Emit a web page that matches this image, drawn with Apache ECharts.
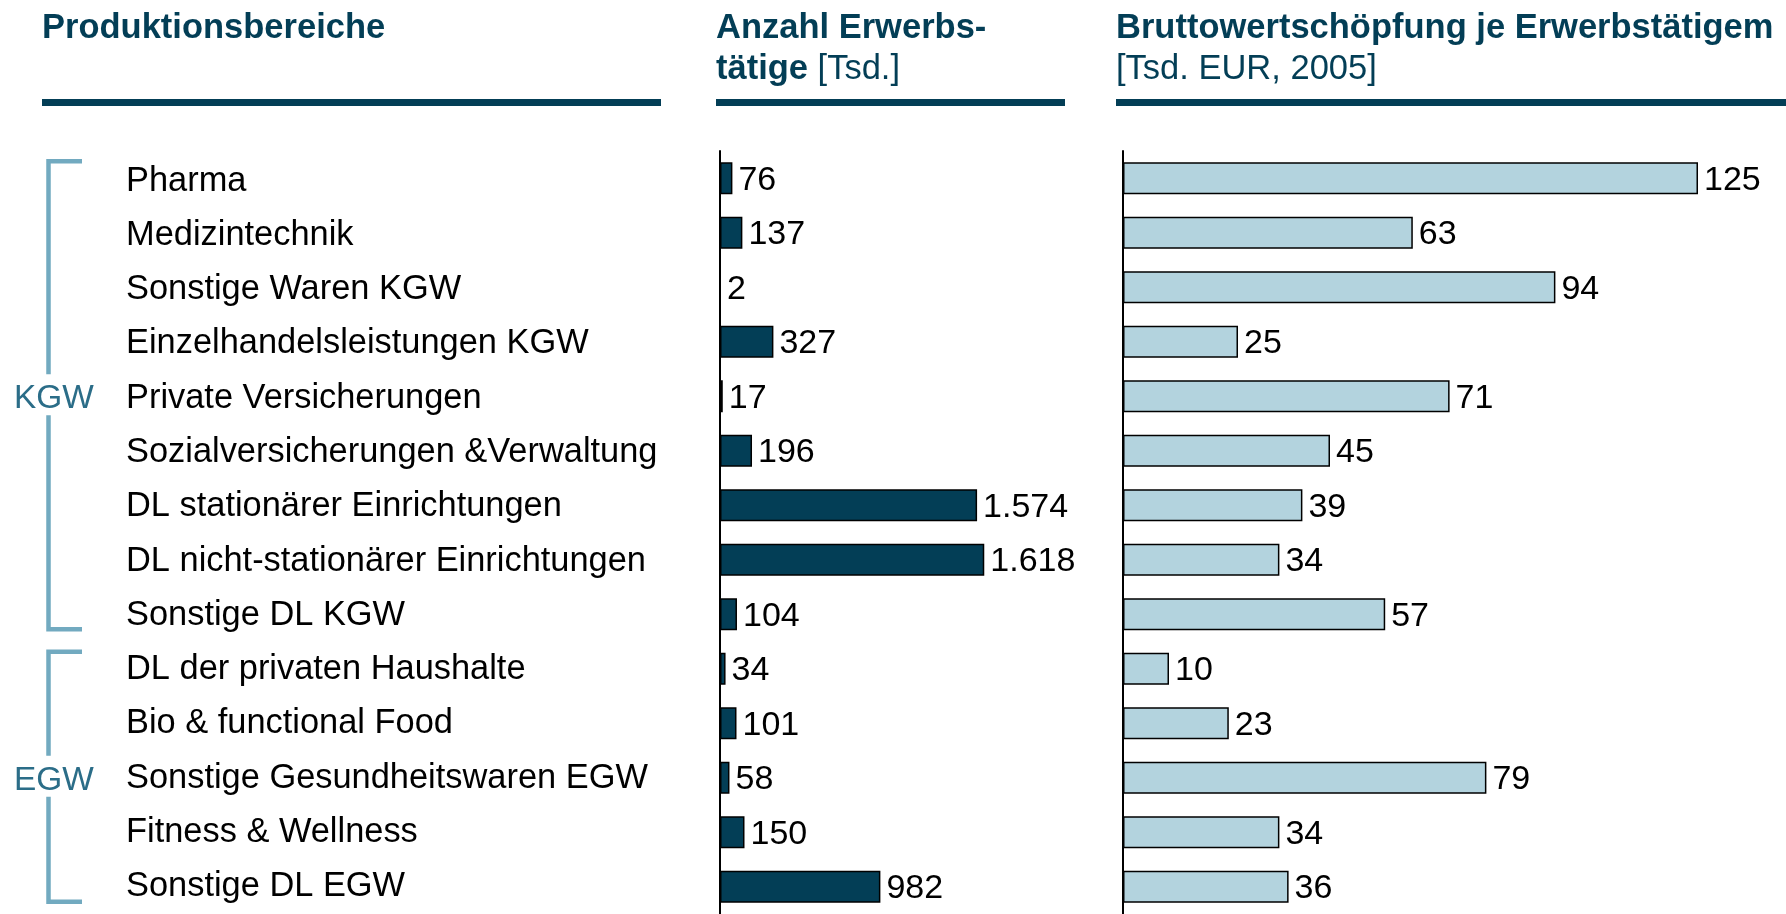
<!DOCTYPE html>
<html>
<head>
<meta charset="utf-8">
<script src="https://cdn.jsdelivr.net/npm/echarts@6/dist/echarts.min.js"></script>
<style>
  html, body { margin: 0; padding: 0; background: #fff; }
  #chart { width: 1786px; height: 914px; }
</style>
</head>
<body>
<div id="chart"></div>
<script>
// ── data ──
const categories = [
  'Pharma', 'Medizintechnik', 'Sonstige Waren KGW', 'Einzelhandelsleistungen KGW',
  'Private Versicherungen', 'Sozialversicherungen &Verwaltung', 'DL stationärer Einrichtungen',
  'DL nicht-stationärer Einrichtungen', 'Sonstige DL KGW', 'DL der privaten Haushalte',
  'Bio & functional Food', 'Sonstige Gesundheitswaren EGW', 'Fitness & Wellness', 'Sonstige DL EGW'
];
const employees = [76, 137, 2, 327, 17, 196, 1574, 1618, 104, 34, 101, 58, 150, 982];
const valueAdded = [125, 63, 94, 25, 71, 45, 39, 34, 57, 10, 23, 79, 34, 36];
const groups = [
  { name: 'KGW', from: 0, to: 8, labelAt: 4 },
  { name: 'EGW', from: 9, to: 13, labelAt: 11 },
];
const headLabels = ['Produktionsbereiche', 'Anzahl Erwerbs-', 'tätige', '[Tsd.]',
  'Bruttowertschöpfung je Erwerbstätigem', '[Tsd. EUR, 2005]'];

const FONT = 'Arial, "Liberation Sans", Helvetica, sans-serif';
const DARK = '#033e56';
const LIGHT = '#b3d3de';
const BRACKET = '#72aac0';
const GROUPTXT = '#2b6d88';

const fmtDe = v => String(v).replace(/\B(?=(\d{3})+(?!\d))/g, '.');

const chart = echarts.init(document.getElementById('chart'));

const rowTop = 151, rowsH = 768;
const bold = { fontFamily: FONT, fontSize: 34.5, fontWeight: 'bold', color: DARK, lineHeight: 41 };
const thin = { fontFamily: FONT, fontSize: 34.5, fontWeight: 'normal', color: DARK, lineHeight: 41 };

chart.setOption({
  backgroundColor: '#fff',
  animation: false,
  title: [
    { text: headLabels[0], left: 42, top: 8, padding: 0, textStyle: bold },
    { text: '{b|' + headLabels[1] + '}\n{b|' + headLabels[2] + '} {n|' + headLabels[3] + '}', left: 716, top: 8, padding: 0,
      textStyle: Object.assign({}, thin, { rich: { b: bold, n: thin } }) },
    { text: '{b|' + headLabels[4] + '}\n{n|' + headLabels[5] + '}', left: 1116, top: 8, padding: 0,
      textStyle: Object.assign({}, thin, { rich: { b: bold, n: thin } }) },
  ],
  grid: [
    { left: 720, top: rowTop, width: 294, height: rowsH },
    { left: 1123, top: rowTop, width: 644, height: rowsH },
    // label-only grid, a few px lower so the row names sit like the original
    { left: 720, top: rowTop + 3, width: 294, height: rowsH },
  ],
  xAxis: [
    { type: 'value', gridIndex: 0, min: 0, max: 1800, show: false },
    { type: 'value', gridIndex: 1, min: 0, max: 140, show: false },
    { type: 'value', gridIndex: 2, min: 0, max: 1800, show: false },
  ],
  yAxis: [
    { type: 'category', gridIndex: 0, data: categories, inverse: true,
      axisLine: { lineStyle: { color: '#000', width: 2 } }, axisTick: { show: false },
      axisLabel: { show: false } },
    { type: 'category', gridIndex: 1, data: categories, inverse: true,
      axisLine: { lineStyle: { color: '#000', width: 2 } }, axisTick: { show: false },
      axisLabel: { show: false } },
    { type: 'category', gridIndex: 2, data: categories, inverse: true,
      axisLine: { show: false }, axisTick: { show: false },
      axisLabel: { align: 'left', margin: 594, color: '#000', fontFamily: FONT, fontSize: 34.4 } },
  ],
  series: [
    { type: 'bar', xAxisIndex: 0, yAxisIndex: 0, data: employees, barWidth: 32,
      itemStyle: { color: DARK, borderColor: '#000', borderWidth: 1.5 },
      label: { show: true, position: 'right', distance: 6, offset: [0, 2], color: '#000', fontFamily: FONT, fontSize: 34,
        formatter: p => fmtDe(p.value) } },
    { type: 'bar', xAxisIndex: 1, yAxisIndex: 1, data: valueAdded, barWidth: 32,
      itemStyle: { color: LIGHT, borderColor: '#000', borderWidth: 1.5 },
      label: { show: true, position: 'right', distance: 6, offset: [0, 2], color: '#000', fontFamily: FONT, fontSize: 34,
        formatter: p => fmtDe(p.value) } },
  ],
});

// header underlines + group brackets, placed from the axis scale
function drawDecor() {
  const rowY = i => chart.convertToPixel({ yAxisIndex: 0 }, categories[i]);
  const els = [
    { type: 'rect', shape: { x: 42, y: 99, width: 619, height: 7 }, style: { fill: DARK } },
    { type: 'rect', shape: { x: 716, y: 99, width: 349, height: 7 }, style: { fill: DARK } },
    { type: 'rect', shape: { x: 1116, y: 99, width: 670, height: 7 }, style: { fill: DARK } },
  ];
  const bx = 48.5, tx = 82;
  groups.forEach(g => {
    const top = rowY(g.from) - 17, bot = rowY(g.to) + 15, mid = rowY(g.labelAt);
    els.push({ type: 'polyline', shape: { points: [[tx, top], [bx, top], [bx, mid - 22]] },
      style: { stroke: BRACKET, lineWidth: 4.5, fill: null } });
    els.push({ type: 'polyline', shape: { points: [[bx, mid + 19], [bx, bot], [tx, bot]] },
      style: { stroke: BRACKET, lineWidth: 4.5, fill: null } });
    els.push({ type: 'text', x: 14, y: mid + 3,
      style: { text: g.name, fill: GROUPTXT, font: '33.4px ' + FONT, verticalAlign: 'middle', align: 'left' } });
  });
  chart.setOption({ graphic: els });
}
drawDecor();
</script>
</body>
</html>
